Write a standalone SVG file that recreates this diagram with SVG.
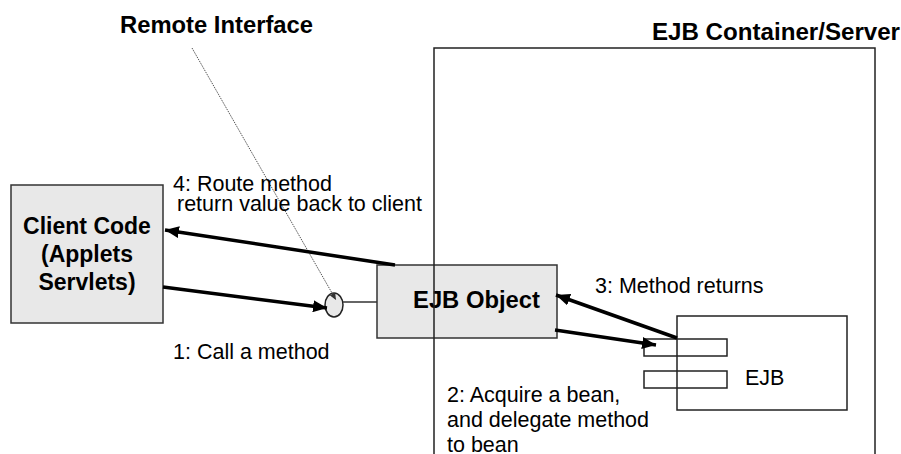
<svg xmlns="http://www.w3.org/2000/svg" width="901" height="454" viewBox="0 0 901 454">
<style>
.b{font-family:"Liberation Sans",Arial,sans-serif;font-weight:bold;font-size:23px;fill:#000}
.t{font-family:"Liberation Sans",Arial,sans-serif;font-size:21.5px;fill:#000}
.box{fill:#e8e8e8;stroke:#333;stroke-width:1.5}
.ln{fill:none;stroke:#222;stroke-width:1.5}
.arr{stroke:#000;stroke-width:3.5;fill:none;marker-end:url(#ah)}
</style>
<defs>
<marker id="ah" markerUnits="userSpaceOnUse" markerWidth="16" markerHeight="12" refX="14" refY="6" orient="auto">
<path d="M0,0 L14,6 L0,12 Z" fill="#000"/>
</marker>
<marker id="sh" markerUnits="userSpaceOnUse" markerWidth="8" markerHeight="6" refX="7" refY="3" orient="auto">
<path d="M0,0 L7,3 L0,6 Z" fill="#333"/>
</marker>
</defs>
<text class="b" x="120" y="33" textLength="193" lengthAdjust="spacingAndGlyphs">Remote Interface</text>
<text class="b" x="652" y="40" textLength="248" lengthAdjust="spacingAndGlyphs">EJB Container/Server</text>
<g id="client">
<rect class="box" x="11" y="185" width="152" height="138"/>
<text class="b" x="87" y="234" text-anchor="middle">Client Code</text>
<text class="b" x="87" y="262" text-anchor="middle">(Applets</text>
<text class="b" x="87" y="290" text-anchor="middle">Servlets)</text>
</g>
<g id="ejbobject">
<rect class="box" x="377" y="265" width="180" height="73"/>
<text class="b" x="413" y="308" textLength="127" lengthAdjust="spacingAndGlyphs">EJB Object</text>
</g>
<g id="container">
<rect class="ln" x="434" y="48" width="441" height="420" stroke="#000"/>
</g>
<g id="remote">
<ellipse cx="334" cy="305" rx="9" ry="12" fill="#e8e8e8" stroke="#222" stroke-width="1.5"/>
</g>
<g id="ejb">
<rect class="ln" x="644" y="339" width="83" height="17"/>
<rect class="ln" x="644" y="371" width="83" height="17"/>
<rect class="ln" x="677" y="316" width="170" height="94"/>
<text class="t" x="745" y="385">EJB</text>
</g>
<g id="connectors">
<line x1="343" y1="302" x2="377" y2="302" stroke="#333" stroke-width="1.5"/>
<line x1="192" y1="48" x2="336" y2="300" stroke="#555" stroke-width="1" stroke-dasharray="1.5,1" marker-end="url(#sh)"/>
<line class="arr" x1="395" y1="265" x2="165" y2="230"/>
<line class="arr" x1="163" y1="287" x2="327" y2="308"/>
<line class="arr" x1="555" y1="330" x2="656" y2="345"/>
<line class="arr" x1="677" y1="338" x2="556" y2="295"/>
</g>
<text class="t" x="173" y="191">4: Route method</text>
<text class="t" x="177" y="211">return value back to client</text>
<text class="t" x="173" y="359">1: Call a method</text>
<text class="t" x="595" y="293">3: Method returns</text>
<text class="t" x="447" y="402">2: Acquire a bean,</text>
<text class="t" x="447" y="427">and delegate method</text>
<text class="t" x="447" y="452">to bean</text>
</svg>
